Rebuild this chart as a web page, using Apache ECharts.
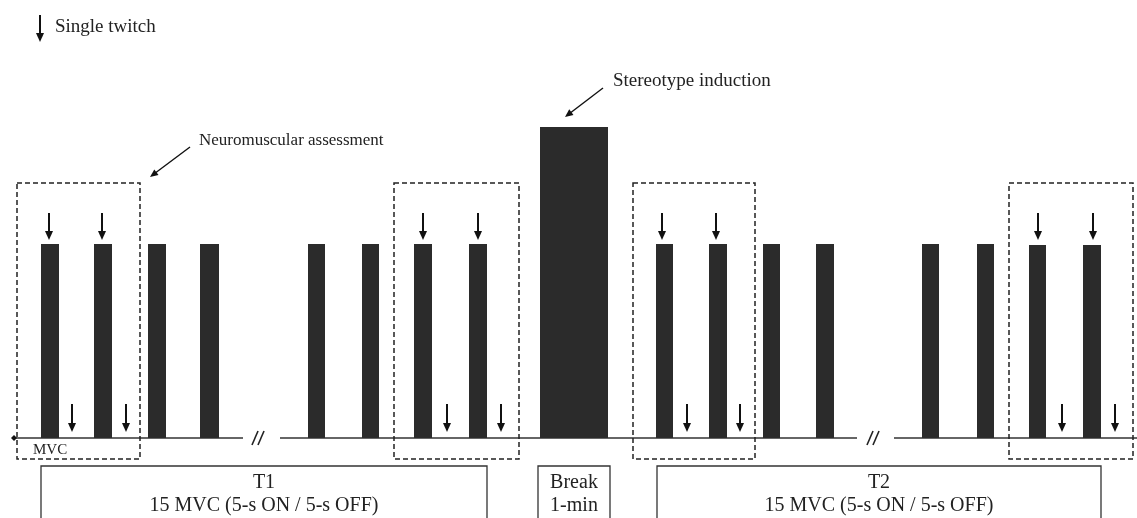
<!DOCTYPE html>
<html>
<head>
<meta charset="utf-8">
<script src="https://cdn.jsdelivr.net/npm/echarts@6/dist/echarts.min.js"></script>
<style>html,body{margin:0;padding:0;background:#fff}#c{width:1137px;height:518px}</style>
</head>
<body>
<div id="c"></div>
<script>
// Schematic units: x = protocol timeline position, y = force level (0 = baseline)
const mvcBarStart  = [41, 94, 148, 200, 308, 362, 414, 469, 656, 709, 763, 816, 922, 977, 1029, 1083];
const mvcBarEnd    = [59, 112, 166, 219, 325, 379, 432, 487, 673, 727, 780, 834, 939, 994, 1046, 1101];
const mvcBarHeight = [194,194,194,194,194,194,194,194,194,194,194,194,194,194,193,193];
const inductionBar = [540, 608, 311];
const assessStart  = [17, 394, 633, 1009];
const assessEnd    = [140, 519, 755, 1133];
const assessTop    = 255;
const assessBottom = -21;
const twitchOnX    = [49, 102, 423, 478, 662, 716, 1038, 1093];
const twitchOnTop  = 225, twitchOnTip = 198;
const twitchOffX   = [72, 126, 447, 501, 687, 740, 1062, 1115];
const twitchOffTop = 34, twitchOffTip = 6;
const baselineStart = [14, 280, 894];
const baselineEnd   = [243, 857, 1137];
const breakMarkX    = [258, 873];
const phaseStart  = [41, 538, 657];
const phaseEnd    = [487, 610, 1101];
const phaseLine1  = ['T1', 'Break', 'T2'];
const phaseLine2  = ['15 MVC (5-s ON / 5-s OFF)', '1-min', '15 MVC (5-s ON / 5-s OFF)'];
const phaseTop = -28, phaseBottom = -95;
const notes = [
  {text: 'Single twitch', x: 55, y: 411, size: 19, arrowFrom: [40, 423], arrowTo: [40, 396], big: true},
  {text: 'Neuromuscular assessment', x: 199, y: 297, size: 17, arrowFrom: [190, 291], arrowTo: [150, 261]},
  {text: 'Stereotype induction', x: 613, y: 357, size: 19, arrowFrom: [603, 350], arrowTo: [565, 321]}
];
const mvcLabel = {text: 'MVC', x: 33, y: -12};

const FONT = 'Liberation Serif';
const INK = '#222';
const BAR = '#2b2b2b';

function arrowEls(api, from, to, w, head) {
  const a = api.coord(from), b = api.coord(to);
  const dx = b[0] - a[0], dy = b[1] - a[1];
  const L = Math.sqrt(dx*dx + dy*dy);
  const ux = dx / L, uy = dy / L;
  const hl = head[0], hw = head[1];
  const bx = b[0] - ux*hl, by = b[1] - uy*hl;
  return [
    {type: 'line', shape: {x1: a[0], y1: a[1], x2: bx + ux*1, y2: by + uy*1}, style: {stroke: '#111', lineWidth: w}},
    {type: 'polygon', shape: {points: [[b[0], b[1]], [bx - uy*hw, by + ux*hw], [bx + uy*hw, by - ux*hw]]}, style: {fill: '#111'}}
  ];
}

const option = {
  animation: false,
  grid: {left: 0, right: 0, top: 0, bottom: 0},
  xAxis: {type: 'value', min: 0, max: 1137, show: false},
  yAxis: {type: 'value', min: -80, max: 438, show: false},
  series: [
    { // baseline segments
      type: 'custom', clip: false,
      data: baselineStart.map((s, i) => [s, baselineEnd[i]]),
      renderItem: (p, api) => {
        const a = api.coord([api.value(0), 0]), b = api.coord([api.value(1), 0]);
        return {type: 'line', shape: {x1: a[0], y1: a[1], x2: b[0], y2: b[1]}, style: {stroke: '#333', lineWidth: 1.5}};
      }
    },
    { // break marks
      type: 'custom', clip: false,
      data: breakMarkX.map(x => [x]),
      renderItem: (p, api) => {
        const c = api.coord([api.value(0), 0]);
        const els = [];
        [-3, 3].forEach(o => els.push({type: 'line', shape: {x1: c[0] + o - 3, y1: c[1] + 7, x2: c[0] + o + 3, y2: c[1] - 7}, style: {stroke: '#222', lineWidth: 1.6}}));
        return {type: 'group', children: els};
      }
    },
    { // MVC bars
      type: 'custom', clip: false,
      data: mvcBarStart.map((s, i) => [s, mvcBarEnd[i], mvcBarHeight[i]]),
      renderItem: (p, api) => {
        const a = api.coord([api.value(0), api.value(2)]), b = api.coord([api.value(1), 0]);
        return {type: 'rect', shape: {x: a[0], y: a[1], width: b[0] - a[0], height: b[1] - a[1]}, style: {fill: BAR}};
      }
    },
    { // induction bar
      type: 'custom', clip: false,
      data: [inductionBar],
      renderItem: (p, api) => {
        const a = api.coord([api.value(0), api.value(2)]), b = api.coord([api.value(1), 0]);
        return {type: 'rect', shape: {x: a[0], y: a[1], width: b[0] - a[0], height: b[1] - a[1]}, style: {fill: BAR}};
      }
    },
    { // assessment dashed boxes
      type: 'custom', clip: false,
      data: assessStart.map((s, i) => [s, assessEnd[i]]),
      renderItem: (p, api) => {
        const a = api.coord([api.value(0), assessTop]), b = api.coord([api.value(1), assessBottom]);
        return {type: 'rect', shape: {x: a[0], y: a[1], width: b[0] - a[0], height: b[1] - a[1]}, style: {fill: 'none', stroke: '#222', lineWidth: 1.5, lineDash: [5, 3]}};
      }
    },
    { // twitch arrows during contraction
      type: 'custom', clip: false,
      data: twitchOnX.map(x => [x]),
      renderItem: (p, api) => ({type: 'group', children: arrowEls(api, [api.value(0), twitchOnTop], [api.value(0), twitchOnTip], 2, [9, 4])})
    },
    { // twitch arrows at rest
      type: 'custom', clip: false,
      data: twitchOffX.map(x => [x]),
      renderItem: (p, api) => ({type: 'group', children: arrowEls(api, [api.value(0), twitchOffTop], [api.value(0), twitchOffTip], 2, [9, 4])})
    },
    { // phase boxes
      type: 'custom', clip: false,
      data: phaseStart.map((s, i) => [s, phaseEnd[i], i]),
      renderItem: (p, api) => {
        const i = api.value(2);
        const a = api.coord([api.value(0), phaseTop]), b = api.coord([api.value(1), phaseBottom]);
        const cx = (a[0] + b[0]) / 2;
        return {type: 'group', children: [
          {type: 'rect', shape: {x: a[0], y: a[1], width: b[0] - a[0], height: b[1] - a[1]}, style: {fill: '#fff', stroke: '#333', lineWidth: 1.3}},
          {type: 'text', x: cx, y: a[1] + 17, style: {text: phaseLine1[i], fontFamily: FONT, fontSize: 20, fill: INK, align: 'center', verticalAlign: 'middle'}},
          {type: 'text', x: cx, y: a[1] + 40, style: {text: phaseLine2[i], fontFamily: FONT, fontSize: 20, fill: INK, align: 'center', verticalAlign: 'middle'}}
        ]};
      }
    },
    { // notes with arrows
      type: 'custom', clip: false,
      data: notes.map((n, i) => [n.x, n.y, i]),
      renderItem: (p, api) => {
        const n = notes[api.value(2)];
        const c = api.coord([api.value(0), api.value(1)]);
        const els = n.big ? arrowEls(api, n.arrowFrom, n.arrowTo, 2, [9, 4]) : arrowEls(api, n.arrowFrom, n.arrowTo, 1.4, [8, 3.5]);
        els.push({type: 'text', x: c[0], y: c[1], style: {text: n.text, fontFamily: FONT, fontSize: n.size, fill: INK, align: 'left', verticalAlign: 'middle'}});
        return {type: 'group', children: els};
      }
    },
    { // MVC label and start dot
      type: 'custom', clip: false,
      data: [[mvcLabel.x, mvcLabel.y, baselineStart[0]]],
      renderItem: (p, api) => {
        const c = api.coord([api.value(0), api.value(1)]);
        const d = api.coord([api.value(2), 0]);
        return {type: 'group', children: [
          {type: 'text', x: c[0], y: c[1], style: {text: mvcLabel.text, fontFamily: FONT, fontSize: 15, fill: INK, align: 'left', verticalAlign: 'middle'}},
          {type: 'polygon', shape: {points: [[d[0] - 3, d[1]], [d[0], d[1] - 3], [d[0] + 3, d[1]], [d[0], d[1] + 3]]}, style: {fill: '#111'}}
        ]};
      }
    }
  ]
};
echarts.init(document.getElementById('c')).setOption(option);
</script>
</body>
</html>
